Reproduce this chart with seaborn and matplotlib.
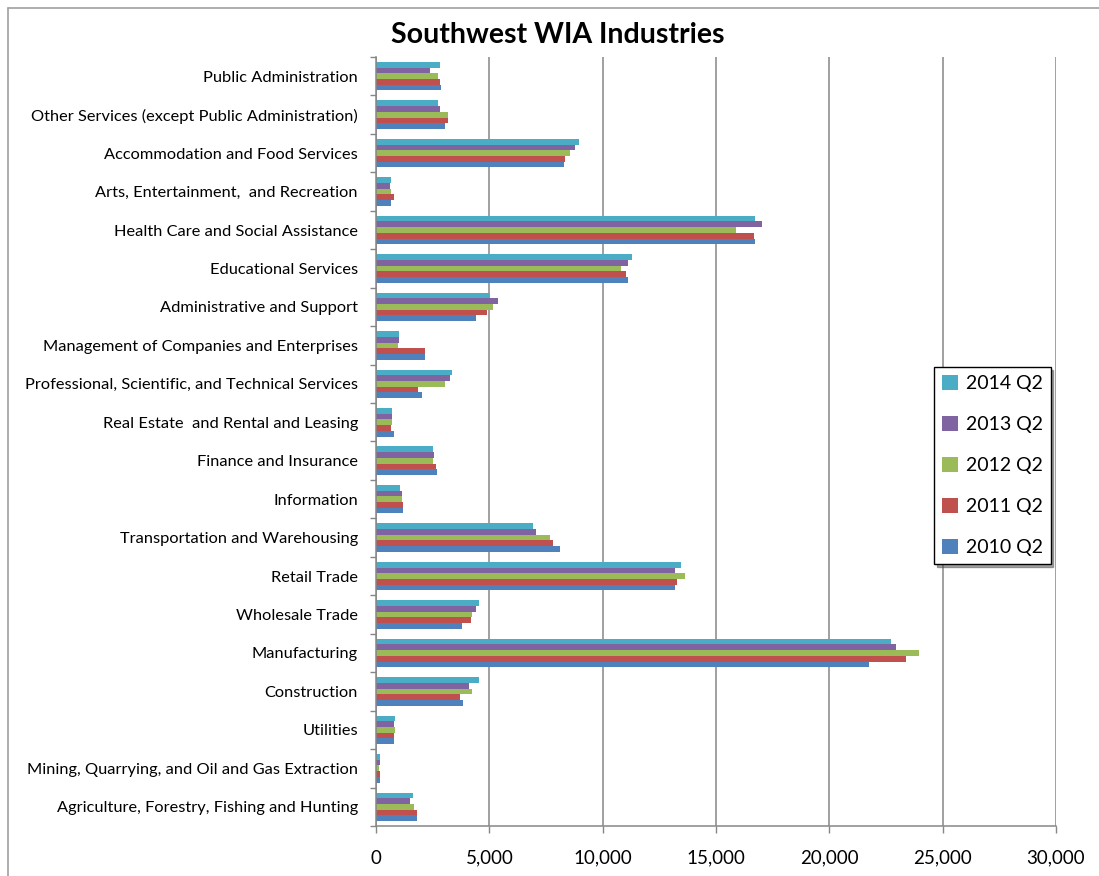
import matplotlib
matplotlib.use("Agg")
import matplotlib.pyplot as plt
from matplotlib.lines import Line2D
import seaborn as sns
import pandas as pd
import numpy as np

categories = [
    "Public Administration",
    "Other Services (except Public Administration)",
    "Accommodation and Food Services",
    "Arts, Entertainment,  and Recreation",
    "Health Care and Social Assistance",
    "Educational Services",
    "Administrative and Support",
    "Management of Companies and Enterprises",
    "Professional, Scientific, and Technical Services",
    "Real Estate  and Rental and Leasing",
    "Finance and Insurance",
    "Information",
    "Transportation and Warehousing",
    "Retail Trade",
    "Wholesale Trade",
    "Manufacturing",
    "Construction",
    "Utilities",
    "Mining, Quarrying, and Oil and Gas Extraction",
    "Agriculture, Forestry, Fishing and Hunting",
]

series_names = ["2014 Q2", "2013 Q2", "2012 Q2", "2011 Q2", "2010 Q2"]

v2014 = [2814, 2755, 8971, 663, 16733, 11298, 5023, 1016, 3344, 707, 2504, 1075, 6938, 13463, 4527, 22717, 4552, 840, 177, 1620]
v2013 = [2386, 2814, 8794, 619, 17013, 11121, 5376, 1016, 3285, 707, 2578, 1134, 7056, 13175, 4392, 22954, 4124, 781, 191, 1502]
v2012 = [2755, 3182, 8543, 663, 15894, 10812, 5156, 957, 3049, 722, 2504, 1134, 7660, 13648, 4223, 23967, 4242, 840, 118, 1679]
v2011 = [2814, 3182, 8352, 781, 16660, 11048, 4905, 2151, 1856, 648, 2637, 1193, 7822, 13293, 4172, 23376, 3712, 781, 177, 1797]
v2010 = [2873, 3049, 8308, 663, 16733, 11121, 4419, 2151, 2047, 781, 2681, 1193, 8116, 13175, 3800, 21755, 3830, 781, 191, 1797]

colors = ["#4BACC6", "#8064A2", "#9BBB59", "#C0504D", "#4F81BD"]

x_ticks = [0, 5000, 10000, 15000, 20000, 25000, 30000]
x_tick_labels = ["0", "5,000", "10,000", "15,000", "20,000", "25,000", "30,000"]

rows = []
for name, vals in zip(series_names, [v2014, v2013, v2012, v2011, v2010]):
    for c, v in zip(categories, vals):
        rows.append({"Industry": c, "Quarter": name, "Employment": v})
df = pd.DataFrame(rows)

sns.set_theme(style="white")
plt.rcParams["font.family"] = ["Lato", "DejaVu Sans"]
plt.rcParams["text.color"] = "black"
plt.rcParams["xtick.labelcolor"] = "black"
plt.rcParams["ytick.labelcolor"] = "black"

fig = plt.figure(figsize=(10.99, 8.76), dpi=100)
ax = fig.add_axes([376 / 1099, 1 - 826 / 876, (1056 - 376) / 1099, (826 - 57) / 876])

sns.barplot(data=df, y="Industry", x="Employment", hue="Quarter",
            order=categories, hue_order=series_names, palette=colors,
            orient="h", width=0.74, linewidth=0, saturation=1, ax=ax, legend=True)

ax.set_xlim(0, 30000)
ax.set_ylim(len(categories) - 0.5, -0.5)
ax.set_xticks(x_ticks)
ax.set_xticklabels(x_tick_labels, fontsize=13.5)
ax.set_xlabel("")
ax.set_ylabel("")

ax.set_yticks(range(len(categories)))
ax.set_yticklabels(categories, fontsize=11.8)
ax.set_yticks(np.arange(-0.5, len(categories), 1), minor=True)
ax.tick_params(axis="y", which="major", length=0, pad=13)
ax.tick_params(axis="y", which="minor", length=4, width=1, color="#868686", direction="out", left=True)
ax.tick_params(axis="x", which="major", length=5, width=1, color="#868686", direction="out", bottom=True, pad=12)

ax.grid(axis="x", color="#868686", linewidth=1.1)
ax.grid(axis="y", visible=False)
ax.set_axisbelow(True)
for s in ["top", "right"]:
    ax.spines[s].set_visible(False)
for s in ["left", "bottom"]:
    ax.spines[s].set_color("#868686")
    ax.spines[s].set_linewidth(1.1)

fig.text(558 / 1099, 1 - 35 / 876, "Southwest WIA Industries", ha="center", va="center",
         fontsize=20.5, fontweight="bold", color="black")

leg = ax.legend(loc="upper left", bbox_to_anchor=(934 / 1099, 1 - 367 / 876),
                bbox_transform=fig.transFigure, borderaxespad=0, frameon=True, fancybox=False,
                shadow=True, edgecolor="black", fontsize=14, handlelength=0.8, handleheight=0.8,
                labelspacing=1.22, borderpad=0.42, handletextpad=0.4)
leg.get_frame().set_linewidth(1.0)

# chart-area border (top and left visible)
fig.add_artist(Line2D([8 / 1099, 8 / 1099], [0, 1 - 8 / 876], transform=fig.transFigure,
                      color="#A0A0A0", linewidth=1.2))
fig.add_artist(Line2D([8 / 1099, 1], [1 - 8 / 876, 1 - 8 / 876], transform=fig.transFigure,
                      color="#A0A0A0", linewidth=1.2))

fig.savefig("out.png", dpi=100)
